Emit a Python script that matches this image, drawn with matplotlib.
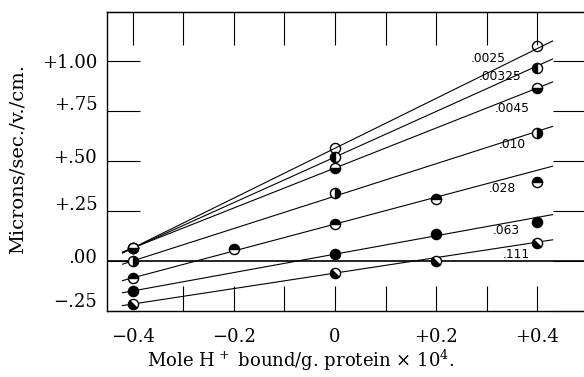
import matplotlib
matplotlib.use("Agg")
import matplotlib.pyplot as plt
from matplotlib.markers import MarkerStyle
from matplotlib.transforms import Affine2D, ScaledTranslation
import numpy as np

plt.rcParams['font.family'] = ['DejaVu Serif']
plt.rcParams['mathtext.fontset'] = 'dejavuserif'

# ---- data ----
concentrations = ['.0025', '.00325', '.0045', '.010', '.028', '.063', '.111']

x_0025 = [-0.4, 0.0, 0.4]
y_0025 = [0.065, 0.565, 1.075]
x_00325 = [-0.4, 0.0, 0.4]
y_00325 = [0.065, 0.52, 0.965]
x_0045 = [-0.4, 0.0, 0.4]
y_0045 = [0.065, 0.465, 0.865]
x_010 = [-0.4, 0.0, 0.4]
y_010 = [0.0, 0.34, 0.64]
x_028 = [-0.4, -0.2, 0.0, 0.2, 0.4]
y_028 = [-0.085, 0.06, 0.185, 0.31, 0.395]
x_063 = [-0.4, 0.0, 0.2, 0.4]
y_063 = [-0.15, 0.035, 0.135, 0.195]
x_111 = [-0.4, 0.0, 0.2, 0.4]
y_111 = [-0.215, -0.06, 0.0, 0.09]

# fitted straight lines (value at left end, value at right end)
line_x = [-0.42, 0.43]
line_left = [0.04, 0.041, 0.045, -0.016, -0.098, -0.159, -0.223]
line_right = [1.10, 1.01, 0.895, 0.673, 0.474, 0.232, 0.106]

# label anchor positions (data coords)
label_x = [0.269, 0.285, 0.316, 0.324, 0.304, 0.312, 0.332]
label_y = [1.015, 0.92, 0.765, 0.58, 0.365, 0.15, 0.03]

yticks = [1.0, 0.75, 0.5, 0.25, 0.0, -0.25]
ytick_labels = ['+1.00', '+.75', '+.50', '+.25', '.00', '\u2212.25']
xticks_major = [-0.4, -0.2, 0.0, 0.2, 0.4]
xtick_labels = ['\u22120.4', '\u22120.2', '0', '+0.2', '+0.4']
xticks_top = [-0.4, -0.3, -0.2, -0.1, 0.0, 0.1, 0.2, 0.3, 0.4]
xticks_bottom = [-0.3, -0.2, -0.1, 0.0, 0.1, 0.2, 0.3, 0.4]

series_x = [x_0025, x_00325, x_0045, x_010, x_028, x_063, x_111]
series_y = [y_0025, y_00325, y_0045, y_010, y_028, y_063, y_111]

diag = MarkerStyle('o', fillstyle='left', transform=Affine2D().rotate_deg(45))
markers = [MarkerStyle('o', fillstyle='none'),
           MarkerStyle('o', fillstyle='left'),
           MarkerStyle('o', fillstyle='bottom'),
           MarkerStyle('o', fillstyle='right'),
           MarkerStyle('o', fillstyle='top'),
           MarkerStyle('o', fillstyle='full'),
           diag]

fig = plt.figure(figsize=(5.84, 3.77), dpi=100)
ax = fig.add_axes([107/584, 66/377, (586-107)/584, 299/377])
ax.set_xlim(-0.4506, 0.496)
ax.set_ylim(-0.25, 1.245)

ax.axhline(0, color='black', lw=1.2, zorder=1)

for i in range(len(concentrations)):
    ax.plot(line_x, [line_left[i], line_right[i]], color='black', lw=0.8, zorder=2)
    ax.plot(series_x[i], series_y[i], linestyle='none', marker=markers[i],
            markersize=7.3, markeredgewidth=1.0, markeredgecolor='black',
            markerfacecolor='black', markerfacecoloralt='white', color='black', zorder=3)
    ax.text(label_x[i], label_y[i], concentrations[i], family='DejaVu Sans',
            fontsize=8.8, ha='left', va='center', zorder=4)

# ticks
ax.set_xticks(xticks_bottom)
ax.set_xticklabels([])
ax.tick_params(axis='x', which='major', direction='in', length=18, width=0.8,
               bottom=True, top=False)
ax.set_yticks(yticks)
ax.set_yticklabels(ytick_labels, fontsize=13)
ax.tick_params(axis='y', direction='in', length=24, width=0.8, left=True, right=True, pad=7)

# top ticks via secondary axis
top = ax.secondary_xaxis('top')
top.set_xticks(xticks_top)
top.set_xticklabels([])
top.tick_params(direction='in', length=24, width=0.8)

# bottom tick labels via secondary axis
bot = ax.secondary_xaxis('bottom')
bot.set_xticks(xticks_major)
bot.set_xticklabels(xtick_labels, fontsize=13)
bot.tick_params(length=0, pad=12)
bot.spines['bottom'].set_visible(False)

# y label offsets to mimic original print
offsets_px = [0, 8, 5, 8, 5, 11]
for lab, off in zip(ax.get_yticklabels(), offsets_px):
    lab.set_transform(lab.get_transform() + ScaledTranslation(0, off/100, fig.dpi_scale_trans))

for s in ax.spines.values():
    s.set_linewidth(1.0)

fig.text(301/584, 1 - 360/377, r'Mole H$^{\,+}$ bound/g. protein $\times$ 10$^{4}$.',
         fontsize=13, ha='center', va='center')
fig.text(18/584, 1 - 159/377, 'Microns/sec./v./cm.', rotation=90, fontsize=14,
         ha='center', va='center')

fig.savefig('out.png', dpi=100)
